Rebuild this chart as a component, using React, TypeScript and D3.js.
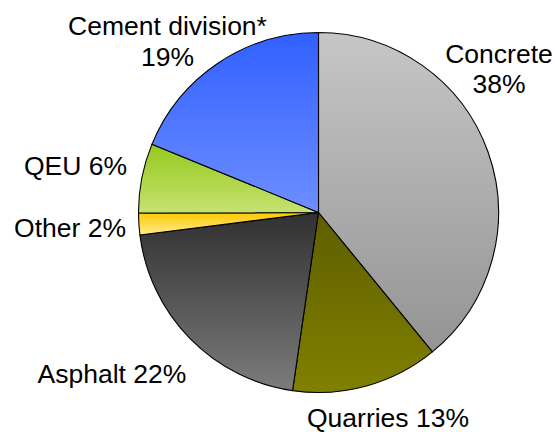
import React from "react";
import * as d3 from "d3";

const categories = ["Concrete", "Quarries", "Asphalt", "Other", "QEU", "Cement division*"];
const shares = [39.1, 13.2, 20.7, 1.95, 6.25, 18.8];
const shareLabels = ["38%", "13%", "22%", "2%", "6%", "19%"];
const topColors = ["#c6c6c6", "#5e5e00", "#303030", "#ffc800", "#96c81e", "#3060ff"];
const bottomColors = ["#949494", "#808000", "#7c7c7c", "#ffec90", "#c6e270", "#6e8eff"];

const W = 555;
const H = 432;
const cx = 318.5;
const cy = 212.5;
const R = 180;

type Lbl = { lines: string[]; x: number; y: number; anchor: "start" | "middle" | "end" };

export default function App() {
  const pie = d3.pie<number>().sort(null).value((d) => d).startAngle(0).endAngle(2 * Math.PI);
  const arcs = pie(shares);
  const arc = d3.arc<d3.PieArcDatum<number>>().innerRadius(0).outerRadius(R);

  const labels: Lbl[] = [
    { lines: [categories[0], shareLabels[0]], x: 499, y: 62.5, anchor: "middle" },
    { lines: [`${categories[1]} ${shareLabels[1]}`], x: 388, y: 427, anchor: "middle" },
    { lines: [`${categories[2]} ${shareLabels[2]}`], x: 112, y: 383, anchor: "middle" },
    { lines: [`${categories[3]} ${shareLabels[3]}`], x: 126, y: 237, anchor: "end" },
    { lines: [`${categories[4]} ${shareLabels[4]}`], x: 127, y: 175, anchor: "end" },
    { lines: [categories[5], shareLabels[5]], x: 167.5, y: 35, anchor: "middle" },
  ];

  return (
    <svg width={W} height={H} style={{ position: "absolute", left: 0, top: 0 }}>
      <defs>
        {arcs.map((a, i) => (
          <linearGradient key={i} id={`g${i}`} x1="0" y1="0" x2="0" y2="1">
            <stop offset="0%" stopColor={topColors[i]} />
            <stop offset="100%" stopColor={bottomColors[i]} />
          </linearGradient>
        ))}
      </defs>
      <g transform={`translate(${cx},${cy})`}>
        {arcs.map((a, i) => (
          <path key={i} d={arc(a) || ""} fill={`url(#g${i})`} stroke="#000" strokeWidth={1.1} strokeLinejoin="round" />
        ))}
      </g>
      {labels.map((l, i) => (
        <text
          key={i}
          x={l.x}
          y={l.y}
          textAnchor={l.anchor}
          fontFamily="'Liberation Sans', Arial, sans-serif"
          fontSize={26.5}
          fill="#000"
        >
          {l.lines.map((t, j) => (
            <tspan key={j} x={l.x} dy={j === 0 ? 0 : 30.8}>
              {t}
            </tspan>
          ))}
        </text>
      ))}
    </svg>
  );
}
